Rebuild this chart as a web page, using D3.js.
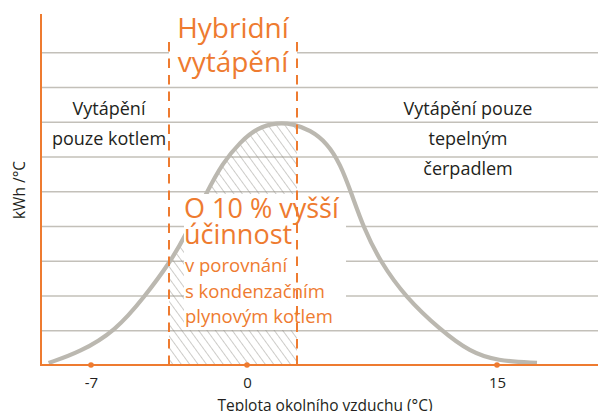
<!DOCTYPE html>
<html>
<head>
  <meta charset="utf-8">
  <script src="https://d3js.org/d3.v7.min.js"></script>
  <style>
    body { margin: 0; background: #fff; }
    svg { display: block; font-family: "Open Sans", "Noto Sans", sans-serif; }
    .gridlines line { stroke: #c3c0b9; stroke-width: 1.6px; }
    .gridlines .domain { stroke: none; }
    .xaxis .domain { stroke: none; }
  </style>
</head>
<body>
  <svg id="chart" width="598" height="411"></svg>

  <script>
    // curve: outdoor temperature (°C) vs. heat demand (kWh/°C, grid units)
    const temps = [-8.9, -7.5, -5.9, -4.6, -3.45, -2.8, -1.8, -1.1, -0.3, 0.6, 1.8, 2.75, 3.8, 4.8, 5.6, 6.25, 7.0, 8.0, 9.5, 11.6, 13.4, 15.0, 17.4];
    const kwh   = [0.06, 0.37, 0.98, 1.96, 2.96, 3.68, 4.98, 5.81, 6.42, 6.82, 6.98, 6.94, 6.76, 6.39, 5.78, 4.96, 3.94, 2.97, 1.96, 1.01, 0.37, 0.12, 0.06];
    const tickTemps = [-7, 0, 15];
    const gridValues = [1, 2, 3, 4, 5, 6, 7, 8, 9];
    const hybridBand = [-3.5, 3];

    const hybridTitle = ["Hybridní", "vytápění"];
    const boilerText = ["Vytápění", "pouze kotlem"];
    const heatPumpText = ["Vytápění pouze", "tepelným", "čerpadlem"];
    const gainTitle = ["O 10 % vyšší", "účinnost"];
    const gainNote = ["v porovnání", "s kondenzačním", "plynovým kotlem"];
    const xLabel = "Teplota okolního vzduchu (°C)";
    const yLabel = "kWh /°C";

    const orange = "#ee7b30";
    const ink = "#231f20";

    const svg = d3.select("svg#chart");
    const width = +svg.attr("width");
    const height = +svg.attr("height");
    const left = 41;

    // the temperature axis of the original is not uniform, so use a piecewise scale
    const xScale = d3.scaleLinear().domain([-7, 0, 15]).range([91, 247, 497]);
    const yScale = d3.scaleLinear().domain([0, 10.1]).range([365, 14]);

    const data = temps.map((t, i) => ({ t: t, v: kwh[i] }));

    // gridlines
    const grid = d3.axisLeft(yScale).tickValues(gridValues).tickSize(-(width - left)).tickFormat("");
    svg.append("g").attr("class", "gridlines")
      .attr("transform", `translate(${left},0)`)
      .call(grid);

    // hatch pattern for the hybrid zone
    const defs = svg.append("defs");
    defs.append("pattern")
      .attr("id", "hatch")
      .attr("patternUnits", "userSpaceOnUse")
      .attr("width", 6.8).attr("height", 10)
      .attr("patternTransform", "rotate(-36)")
      .append("line")
      .attr("x1", 0).attr("y1", 0).attr("x2", 0).attr("y2", 10)
      .attr("stroke", "#8f8c86").attr("stroke-width", 0.9);

    defs.append("clipPath").attr("id", "bandClip")
      .append("rect")
      .attr("x", xScale(hybridBand[0]))
      .attr("y", 0)
      .attr("width", xScale(hybridBand[1]) - xScale(hybridBand[0]))
      .attr("height", yScale(0));

    const area = d3.area()
      .x(d => xScale(d.t))
      .y0(yScale(0))
      .y1(d => yScale(d.v))
      .curve(d3.curveBasis);

    svg.append("path")
      .datum(data)
      .attr("clip-path", "url(#bandClip)")
      .attr("fill", "url(#hatch)")
      .attr("d", area);

    const line = d3.line()
      .x(d => xScale(d.t))
      .y(d => yScale(d.v))
      .curve(d3.curveBasis);

    svg.append("path")
      .datum(data)
      .attr("fill", "none")
      .attr("stroke", "#bbb8b0")
      .attr("stroke-width", 4.2)
      .attr("d", line);

    function textLines(lines, x, y0, step, size, color, anchor) {
      const t = svg.append("text")
        .attr("font-size", size)
        .attr("fill", color)
        .attr("text-anchor", anchor);
      lines.forEach((s, i) => {
        t.append("tspan").attr("x", x).attr("y", y0 + i * step).text(s);
      });
      return t;
    }

    const bandLeft = xScale(hybridBand[0]);
    const bandRight = xScale(hybridBand[1]);

    // white box behind the title spans the hybrid band
    svg.append("rect")
      .attr("x", bandLeft)
      .attr("y", 0)
      .attr("width", bandRight - bandLeft)
      .attr("height", 80)
      .attr("fill", "#fff");
    textLines(hybridTitle, (bandLeft + bandRight) / 2, 38, 34, 28, orange, "middle");

    textLines(boilerText, 109, 115, 30, 18, ink, "middle");
    textLines(heatPumpText, 468, 115, 30, 18, ink, "middle");

    // efficiency note, on a white box that hides gridlines and curve
    const gainBox = svg.append("rect").attr("fill", "#fff");
    const gt1 = textLines(gainTitle, 184, 218, 26, 27, orange, "start");
    const gt2 = textLines(gainNote, 185, 272, 25.5, 18.5, orange, "start");
    const b1 = gt1.node().getBBox();
    gainBox.attr("x", b1.x).attr("y", 194)
      .attr("width", b1.width + 6)
      .attr("height", 330 - 194);

    // hybrid band borders
    svg.selectAll("line.band").data(hybridBand)
      .join("line").attr("class", "band")
      .attr("x1", d => xScale(d)).attr("x2", d => xScale(d))
      .attr("y1", 42).attr("y2", yScale(0))
      .attr("stroke", orange)
      .attr("stroke-width", 2)
      .attr("stroke-dasharray", "9.5,7");

    // axes
    svg.append("line")
      .attr("x1", left).attr("x2", left)
      .attr("y1", 14).attr("y2", yScale(0))
      .attr("stroke", orange).attr("stroke-width", 2);
    svg.append("line")
      .attr("x1", left - 1).attr("x2", width)
      .attr("y1", yScale(0)).attr("y2", yScale(0))
      .attr("stroke", orange).attr("stroke-width", 2);

    const xAxis = d3.axisBottom(xScale).tickValues(tickTemps).tickSize(0).tickPadding(12).tickFormat(d => d);
    const xg = svg.append("g").attr("class", "xaxis")
      .attr("transform", `translate(0,${yScale(0)})`)
      .call(xAxis);
    xg.attr("font-family", null).attr("font-size", null);
    xg.selectAll("text")
      .attr("dy", null)
      .attr("y", 23)
      .attr("font-size", 15)
      .attr("fill", ink);

    svg.selectAll("circle.tick").data(tickTemps)
      .join("circle").attr("class", "tick")
      .attr("cx", d => xScale(d))
      .attr("cy", yScale(0))
      .attr("r", 2.8)
      .attr("fill", orange);

    svg.append("text")
      .attr("x", 325).attr("y", 411)
      .attr("text-anchor", "middle")
      .attr("font-size", 15.5)
      .attr("fill", ink)
      .text(xLabel);

    svg.append("text")
      .attr("transform", `translate(25,190) rotate(-90)`)
      .attr("text-anchor", "middle")
      .attr("font-size", 15.5)
      .attr("fill", ink)
      .text(yLabel);
  </script>
</body>
</html>
